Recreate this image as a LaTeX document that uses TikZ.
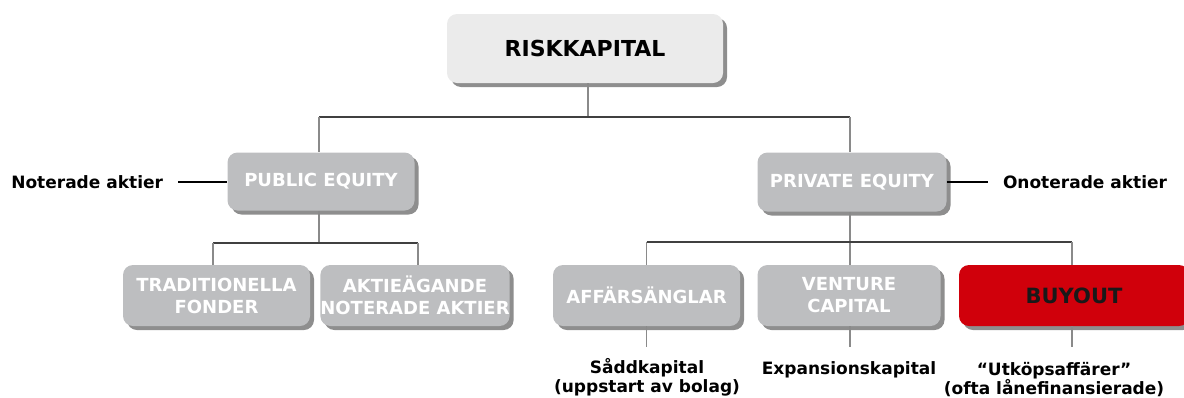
\documentclass[tikz,border=0pt]{standalone}
\usepackage{fontspec}
\setmainfont{DejaVu Sans}
\usetikzlibrary{shadows}
\definecolor{topgray}{HTML}{EBEBEB}
\definecolor{boxgray}{HTML}{BDBEC0}
\definecolor{shadegray}{HTML}{8E8E8E}
\definecolor{buyred}{HTML}{D0000B}
\definecolor{linegray}{HTML}{8A8A8A}
\tikzset{
  box/.style = {fill=#1, rounded corners=5pt, inner sep=0pt, align=center,
    text=white, font=\fontsize{9}{11}\selectfont\bfseries,
    drop shadow={shadow xshift=2pt, shadow yshift=-2pt, fill=shadegray, opacity=1}},
  topbox/.style = {text=black, font=\fontsize{11}{13}\selectfont\bfseries},
  redbox/.style = {text=black!90, font=\fontsize{10.5}{12}\selectfont\bfseries},
  label/.style = {inner sep=0pt, outer sep=7.5pt, align=center, text=black,
    font=\fontsize{8.5}{9.5}\selectfont\bfseries},
  vline/.style = {color=#1, line width=0.6pt},
  hline/.style = {color=#1, line width=0.6pt}
}

\begin{document}
\begin{tikzpicture}[x=0.5pt, y=-0.5pt]

    \useasboundingbox (0,0) rectangle (1184,397);

    % Bars
    \coordinate (bar1) at (588,117);
    \coordinate (bar2) at (319,243);
    \coordinate (bar3) at (850,242);
    \coordinate (bx) at (1072,0);
    \coordinate (lowend) at (0,347);

    % Boxes
    \node[box={topgray}, topbox, minimum width=138pt, minimum height=34.5pt] (risk) at (585,48.5) {RISKKAPITAL};
    \node[box={boxgray}, minimum width=93.5pt, minimum height=29pt] (public) at (321,181.5) {PUBLIC EQUITY};
    \node[box={boxgray}, minimum width=94.5pt, minimum height=29.5pt] (private) at (852,182) {PRIVATE EQUITY};
    \node[box={boxgray}, minimum width=93.5pt, minimum height=30.5pt] (trad) at (216.5,295.5) {TRADITIONELLA\\FONDER};
    \node[box={boxgray}, minimum width=93pt, minimum height=30.5pt] (aktie) at (415,295.5) {AKTIEÄGANDE\\NOTERADE AKTIER};
    \node[box={boxgray}, minimum width=93.5pt, minimum height=30.5pt] (affar) at (646.5,295.5) {AFFÄRSÄNGLAR};
    \node[box={boxgray}, minimum width=91.5pt, minimum height=30.5pt] (venture) at (849,295.5) {VENTURE\\CAPITAL};
    \node[box={buyred}, redbox, minimum width=115pt, minimum height=30.5pt] (buyout) at (1074,295.5) {BUYOUT};

    % Labels
    \node[label, anchor=east] (noterade) at (178,182) {Noterade aktier};
    \node[label, anchor=west] (onoterade) at (988,182) {Onoterade aktier};
    \node[label, anchor=north] (sadd) at (647,343) {Såddkapital\\(uppstart av bolag)};
    \node[label, anchor=north] (expansion) at (849,347) {Expansionskapital};
    \node[label, anchor=north] (utkop) at (1054,347) {“Utköpsaffärer”\\(ofta lånefinansierade)};

    % Tree
    \draw[vline={linegray}] (risk.south -| bar1) -- (bar1);
    \draw[hline={black!75}] (bar1 -| bar2) -- (bar1 -| bar3);
    \draw[vline={linegray}] (bar1 -| bar2) -- (public.north -| bar2);
    \draw[vline={linegray}] (bar1 -| bar3) -- (private.north -| bar3);

    \draw[vline={linegray}] (public.south -| bar2) -- (bar2);
    \draw[hline={black!75}] (bar2 -| 213,0) -- (bar2 -| 418,0);
    \draw[vline={linegray}] (bar2 -| 213,0) -- (trad.north -| 213,0);
    \draw[vline={linegray}] (bar2 -| 418,0) -- (aktie.north -| 418,0);

    \draw[vline={linegray}] (private.south -| bar3) -- (venture.north -| bar3);
    \draw[hline={black!75}] (bar3 -| affar.north) -- (bar3 -| bx);
    \draw[vline={linegray}] (bar3 -| affar.north) -- (affar.north);
    \draw[vline={linegray}] (bar3 -| bx) -- (buyout.north -| bx);

    % Label lines
    \draw[hline={black}] (noterade.east) -- (noterade.east -| public.west);
    \draw[hline={black}] (onoterade.west -| private.east) -- (onoterade.west);
    \draw[vline={linegray}] (affar.south) -- (affar.south |- lowend);
    \draw[vline={linegray}] (venture.south -| bar3) -- (lowend -| bar3);
    \draw[vline={linegray}] (buyout.south -| bx) -- (lowend -| bx);

\end{tikzpicture}
\end{document}
